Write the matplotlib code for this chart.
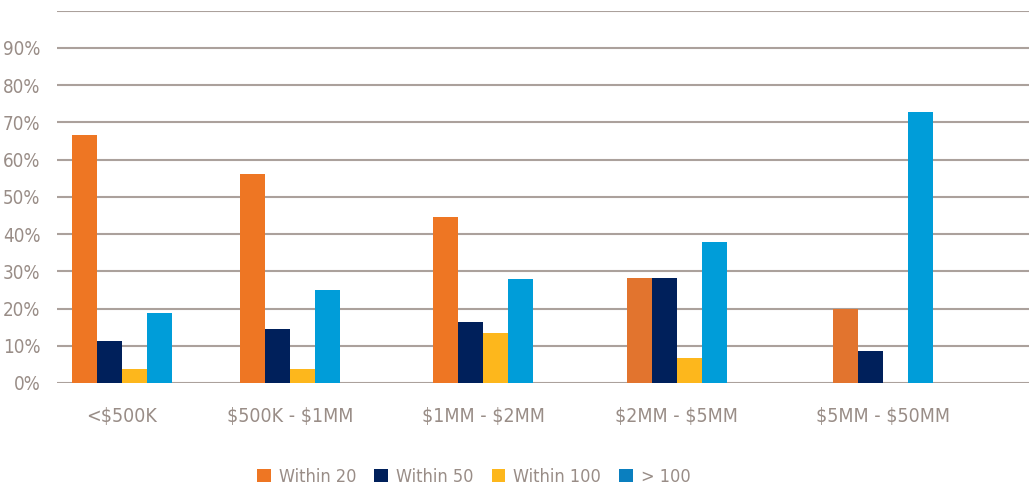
import matplotlib
matplotlib.use("Agg")
import matplotlib.pyplot as plt
from matplotlib.patches import Patch
import numpy as np

categories = ["<$500K", "$500K - $1MM", "$1MM - $2MM", "$2MM - $5MM", "$5MM - $50MM"]
series_names = ["Within 20", "Within 50", "Within 100", "> 100"]
within_20 = [66.7, 56.1, 44.6, 28.3, 20.0]
within_50 = [11.3, 14.4, 16.4, 28.3, 8.6]
within_100 = [3.8, 3.8, 13.3, 6.8, 0.0]
over_100 = [18.7, 24.9, 28.0, 37.8, 72.8]
y_ticks = [0, 10, 20, 30, 40, 50, 60, 70, 80, 90]
y_tick_labels = ["0%", "10%", "20%", "30%", "40%", "50%", "60%", "70%", "80%", "90%"]

series = [within_20, within_50, within_100, over_100]
bar_colors = [["#EE7623"] * 3 + ["#E2742E"] * 2, "#00205B", "#FDB71C", "#009DD9"]
legend_colors = ["#EE7623", "#00205B", "#FDB71C", "#0A7FBF"]
text_color = "#998D87"
grid_color = "#ABA19C"

plt.rcParams['text.parse_math'] = False
plt.rcParams['font.family'] = ['DejaVu Sans']
plt.rcParams['font.stretch'] = 'condensed'

fig = plt.figure(figsize=(10.29, 4.91), dpi=100)
ax = fig.add_axes([57 / 1029, 1 - 383 / 491, 1 - 57 / 1029, (383 - 10.7) / 491])

group_pos = np.array([0, 0.884, 1.9, 2.92, 4.005])
w = 0.1316
for i, (vals, col) in enumerate(zip(series, bar_colors)):
    ax.bar(group_pos + (i - 1.5) * w, vals, width=w, color=col, zorder=3, linewidth=0)

ax.set_ylim(0, 100)
ax.set_xlim(-0.342, 4.774)
ax.set_yticks(y_ticks + [100])
ax.set_yticklabels(y_tick_labels + [""])
ax.yaxis.grid(True, color=grid_color, linewidth=1.5, zorder=0)
ax.set_axisbelow(True)
ax.set_xticks(group_pos)
ax.set_xticklabels(categories)
ax.tick_params(axis='both', length=0, colors=text_color)
ax.tick_params(axis='y', pad=12, labelsize=13.5)
ax.tick_params(axis='x', pad=17, labelsize=14)
for s in ax.spines.values():
    s.set_visible(False)
for lab in ax.get_xticklabels() + ax.get_yticklabels():
    lab.set_color(text_color)
    lab.set_fontstretch('condensed')
    lab.set_fontweight('medium')

handles = [Patch(facecolor=c, edgecolor='none') for c in legend_colors]
fig.legend(handles, series_names, loc='center', bbox_to_anchor=(474 / 1029, 1 - 477 / 491),
           ncol=4, frameon=False, prop={'size': 13, 'stretch': 'condensed'}, labelcolor=text_color,
           handlelength=0.75, handleheight=0.75, handletextpad=0.45, columnspacing=1.0)

fig.savefig("out.png", dpi=100)
